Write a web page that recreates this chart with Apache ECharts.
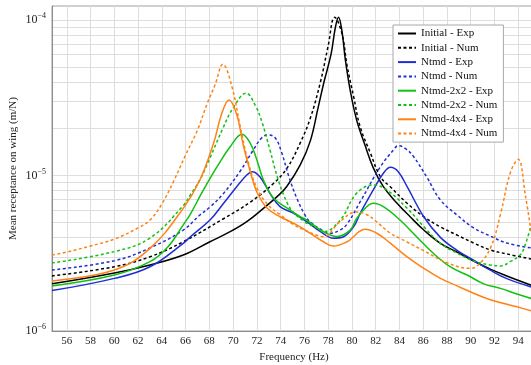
<!DOCTYPE html>
<html>
<head>
<meta charset="utf-8">
<script src="https://cdn.jsdelivr.net/npm/echarts@6/dist/echarts.min.js"></script>
<style>
  html, body { margin: 0; padding: 0; background: #fff; }
  #chart { width: 531px; height: 365px; }
</style>
</head>
<body>
<div id="chart"></div>
<script>
// tick values
const xTicks = [56, 58, 60, 62, 64, 66, 68, 70, 72, 74, 76, 78, 80, 82, 84, 86, 88, 90, 92, 94];
const yLabelTicks = [1e-6, 1e-5, 1e-4];
const yGridTicks = [1e-6, 2e-6, 3e-6, 4e-6, 5e-6, 6e-6, 7e-6, 8e-6, 9e-6,
  1e-5, 2e-5, 3e-5, 4e-5, 5e-5, 6e-5, 7e-5, 8e-5, 9e-5, 1e-4];

// [frequency (Hz), receptance (m/N)]
const initialExp = [[54.75, 2.01e-6], [60, 2.36e-6], [63, 2.66e-6], [65.8, 3.08e-6], [68.05, 3.75e-6],
  [69.75, 4.35e-6], [71.15, 5.05e-6], [72.55, 6.15e-6], [73.7, 7.31e-6], [74.5, 8.47e-6], [75.65, 1.17e-5],
  [76.5, 1.67e-5], [77.15, 2.72e-5], [77.65, 3.99e-5], [78.25, 6.05e-5], [78.6, 8.88e-5], [78.87, 1.04e-4],
  [79.15, 8.62e-5], [79.45, 5.53e-5], [79.85, 3.55e-5], [80.4, 2.27e-5], [81.1, 1.57e-5], [81.8, 1.12e-5],
  [82.65, 8.47e-6], [83.8, 6.63e-6], [84.9, 5.43e-6], [86.05, 4.46e-6], [87.45, 3.66e-6], [88.85, 3.22e-6],
  [90.25, 2.82e-6], [91.65, 2.5e-6], [93.05, 2.26e-6], [95.1, 1.97e-6]];

const initialNum = [[54.75, 2.26e-6], [60, 2.59e-6], [63, 3.0e-6], [65.8, 3.75e-6], [69.15, 5.25e-6],
  [71.45, 6.75e-6], [73.35, 8.82e-6], [74.55, 1.12e-5], [75.65, 1.62e-5], [76.5, 2.34e-5], [77.35, 3.99e-5],
  [78.0, 6.8e-5], [78.55, 1.04e-4], [79.15, 8.25e-5], [79.6, 5.06e-5], [80.15, 3.2e-5], [80.7, 2.05e-5],
  [81.55, 1.4e-5], [82.4, 9.82e-6], [83.25, 8.43e-6], [84.65, 6.63e-6], [86.05, 5.43e-6], [87.45, 4.67e-6],
  [88.85, 4.14e-6], [90.25, 3.68e-6], [91.65, 3.32e-6], [93.05, 3.13e-6], [95.1, 2.9e-6]];

const ntmdExp = [[54.75, 1.82e-6], [60, 2.18e-6], [63, 2.59e-6], [65.8, 3.66e-6], [66.4, 4.04e-6],
  [68.05, 5.17e-6], [69.2, 6.63e-6], [70.3, 8.47e-6], [71.15, 1.007e-5], [71.6, 1.058e-5], [72.25, 9.82e-6],
  [73.1, 7.68e-6], [73.95, 6.3e-6], [75.1, 5.71e-6], [76.2, 5.05e-6], [77.35, 4.35e-6], [78.45, 3.95e-6],
  [79.3, 4.04e-6], [80.15, 4.69e-6], [80.7, 5.71e-6], [81.8, 8.07e-6], [82.65, 1.033e-5], [83.25, 1.129e-5],
  [83.9, 1.058e-5], [84.65, 8.47e-6], [86.05, 5.43e-6], [87.45, 4.0e-6], [88.85, 3.3e-6], [90.25, 2.85e-6],
  [91.65, 2.46e-6], [93.05, 2.17e-6], [95.1, 1.92e-6]];

const ntmdNum = [[54.75, 2.47e-6], [60, 2.83e-6], [63, 3.42e-6], [65.8, 4.46e-6], [67.2, 5.57e-6],
  [68.05, 6.27e-6], [69.15, 7.6e-6], [70.6, 1.069e-5], [71.7, 1.459e-5], [72.4, 1.742e-5], [72.95, 1.822e-5],
  [73.55, 1.742e-5], [74.1, 1.395e-5], [74.65, 1.007e-5], [75.35, 7.17e-6], [76.05, 5.57e-6], [76.5, 5.02e-6],
  [77.6, 4.4e-6], [78.15, 4.25e-6], [79.0, 4.46e-6], [79.6, 4.88e-6], [80.7, 6.78e-6], [82.4, 1.139e-5],
  [83.5, 1.459e-5], [83.9, 1.555e-5], [84.55, 1.481e-5], [85.2, 1.321e-5], [86.3, 9.78e-6], [87.45, 6.96e-6],
  [88.85, 5.57e-6], [90.25, 4.6e-6], [91.65, 4.08e-6], [93.05, 3.68e-6], [95.1, 3.42e-6]];

const ntmd2x2Exp = [[54.75, 1.95e-6], [60, 2.29e-6], [63, 2.79e-6], [64.5, 3.47e-6], [65.8, 4.81e-6],
  [66.4, 5.65e-6], [67.5, 8.07e-6], [68.65, 1.139e-5], [69.75, 1.532e-5], [70.75, 1.841e-5], [71.45, 1.611e-5],
  [72.0, 1.258e-5], [72.55, 9.36e-6], [73.4, 7.17e-6], [74.65, 6.09e-6], [75.65, 5.43e-6], [76.2, 5.17e-6],
  [77.6, 4.35e-6], [78.75, 4.05e-6], [79.85, 4.45e-6], [80.4, 5.3e-6], [81.25, 6.3e-6], [81.8, 6.63e-6],
  [82.65, 6.3e-6], [84.05, 5.17e-6], [85.45, 4.04e-6], [86.85, 3.16e-6], [88.3, 2.58e-6], [89.7, 2.29e-6],
  [91.1, 2.01e-6], [92.5, 1.88e-6], [93.9, 1.73e-6], [95.1, 1.62e-6]];

const ntmd2x2Num = [[54.75, 2.74e-6], [60, 3.24e-6], [63, 3.96e-6], [65.8, 6.4e-6], [66.4, 7.5e-6],
  [67.2, 9.36e-6], [68.05, 1.296e-5], [69.15, 2.02e-5], [70.0, 2.72e-5], [71.1, 3.38e-5], [71.85, 2.84e-5],
  [72.45, 2.18e-5], [73.1, 1.459e-5], [73.8, 9.36e-6], [74.55, 6.66e-6], [75.05, 5.83e-6], [76.05, 5.02e-6],
  [77.05, 4.6e-6], [77.6, 4.35e-6], [79.0, 5.14e-6], [80.4, 7.68e-6], [81.8, 8.69e-6], [82.95, 8.07e-6],
  [84.65, 6.15e-6], [86.05, 4.69e-6], [87.45, 3.66e-6], [88.85, 3.17e-6], [90.25, 2.82e-6], [91.65, 2.66e-6],
  [92.5, 2.62e-6], [93.35, 2.8e-6], [94.2, 3.1e-6], [94.6, 3.6e-6], [95.1, 4.8e-6]];

const ntmd4x4Exp = [[54.75, 2.1e-6], [60, 2.47e-6], [63, 3.4e-6], [65.8, 6.15e-6], [67.2, 9.36e-6],
  [68.35, 1.611e-5], [69.05, 2.51e-5], [69.65, 3.06e-5], [70.3, 2.47e-5], [70.85, 1.571e-5], [71.45, 1.053e-5],
  [72.0, 7.83e-6], [72.85, 6.18e-6], [73.95, 5.43e-6], [75.35, 4.81e-6], [76.5, 4.25e-6], [77.6, 3.75e-6],
  [78.45, 3.52e-6], [79.6, 3.75e-6], [80.15, 4.05e-6], [80.6, 4.35e-6], [81.1, 4.51e-6], [82.1, 4.25e-6],
  [83.25, 3.66e-6], [84.65, 3.0e-6], [86.05, 2.53e-6], [87.45, 2.18e-6], [88.85, 1.95e-6], [90.25, 1.75e-6],
  [91.65, 1.59e-6], [93.9, 1.43e-6], [95.1, 1.35e-6]];

const ntmd4x4Num = [[54.75, 3.08e-6], [56, 3.22e-6], [58, 3.52e-6], [60, 3.9e-6], [62, 4.6e-6], [63, 5.17e-6],
  [64, 6.56e-6], [65, 9.22e-6], [66, 1.355e-5], [67.0, 1.96e-5], [67.8, 2.88e-5], [68.5, 3.87e-5],
  [69.13, 5.19e-5], [69.9, 3.72e-5], [70.6, 2.06e-5], [71.3, 1.2e-5], [72.0, 8.31e-6], [72.95, 6.46e-6],
  [74.0, 5.57e-6], [75.0, 4.88e-6], [76.0, 4.46e-6], [77.0, 4.14e-6], [77.6, 4.04e-6], [79.0, 5.05e-6],
  [80.4, 5.83e-6], [81.3, 5.57e-6], [82.0, 5.1e-6], [83.2, 4.27e-6], [84.0, 3.96e-6], [84.6, 3.75e-6],
  [86.0, 3.3e-6], [88.0, 2.75e-6], [89.9, 2.53e-6], [90.5, 2.6e-6], [91.65, 3.4e-6], [92.5, 5.6e-6],
  [93.35, 1.05e-5], [94.0, 1.27e-5], [94.6, 7.5e-6], [95.1, 4.3e-6]];

const seriesList = [
  { name: 'Initial - Exp', data: initialExp, color: '#000000', dashed: false },
  { name: 'Initial - Num', data: initialNum, color: '#000000', dashed: true },
  { name: 'Ntmd - Exp', data: ntmdExp, color: '#1f2ed2', dashed: false },
  { name: 'Ntmd - Num', data: ntmdNum, color: '#1f2ed2', dashed: true },
  { name: 'Ntmd-2x2 - Exp', data: ntmd2x2Exp, color: '#12c012', dashed: false },
  { name: 'Ntmd-2x2 - Num', data: ntmd2x2Num, color: '#12c012', dashed: true },
  { name: 'Ntmd-4x4 - Exp', data: ntmd4x4Exp, color: '#ff8214', dashed: false },
  { name: 'Ntmd-4x4 - Num', data: ntmd4x4Num, color: '#ff8214', dashed: true },
];

const font = 'Liberation Serif';
const chart = echarts.init(document.getElementById('chart'), null, { renderer: 'canvas' });

const option = {
  backgroundColor: '#fff',
  animation: false,
  textStyle: { fontFamily: font },
  grid: {
    left: 52,
    top: 6,
    right: -5,
    bottom: 34,
    outerBoundsMode: 'none',
    containLabel: false,
    show: true,
    borderColor: '#a0a0a0',
    borderWidth: 1,
  },
  legend: {
    left: 393,
    top: 25,
    orient: 'vertical',
    padding: [3, 6, 3, 4],
    itemWidth: 18,
    itemHeight: 10,
    itemGap: 3.3,
    backgroundColor: '#fff',
    borderColor: '#a8a8a8',
    borderWidth: 1,
    borderRadius: 0,
    itemStyle: { opacity: 0 },
    textStyle: { fontFamily: font, fontSize: 11, color: '#111' },
    data: seriesList.map((s) => s.name),
  },
  xAxis: {
    type: 'value',
    min: 54.75,
    max: 95.5,
    name: 'Frequency (Hz)',
    nameLocation: 'middle',
    nameGap: 21,
    nameTextStyle: { fontFamily: font, fontSize: 11, color: '#222' },
    axisLine: { lineStyle: { color: '#8c8c8c' } },
    axisTick: { show: false, customValues: xTicks },
    axisLabel: {
      customValues: xTicks,
      fontFamily: font,
      fontSize: 11,
      color: '#222',
      margin: 5,
    },
    splitLine: { show: true, lineStyle: { color: '#dedede', width: 1 } },
  },
  yAxis: {
    type: 'log',
    logBase: 10,
    min: 1e-6,
    max: 1.23e-4,
    name: 'Mean receptance on wing (m/N)',
    nameLocation: 'middle',
    nameGap: 33,
    nameMoveOverlap: false,
    nameTextStyle: { fontFamily: font, fontSize: 11, color: '#222' },
    axisLine: { show: true, lineStyle: { color: '#8c8c8c' } },
    axisTick: { show: false, customValues: yGridTicks },
    axisLabel: {
      customValues: yLabelTicks,
      margin: 6,
      formatter: (v) => '{b|10}{e|\u2212' + Math.round(-Math.log10(v)) + '}',
      rich: {
        b: { fontFamily: font, fontSize: 12, color: '#222' },
        e: { fontFamily: font, fontSize: 8, color: '#222', padding: [0, 0, 8, 0] },
      },
    },
    splitLine: { show: true, lineStyle: { color: '#dedede', width: 1 } },
  },
  series: seriesList.map((s) => ({
    name: s.name,
    type: 'line',
    data: s.data,
    showSymbol: false,
    symbol: 'none',
    smooth: 0.4,
    clip: true,
    color: s.color,
    lineStyle: {
      color: s.color,
      width: 1.5,
      type: s.dashed ? [3, 2.5] : 'solid',
    },
  })),
};

chart.setOption(option);
</script>
</body>
</html>
